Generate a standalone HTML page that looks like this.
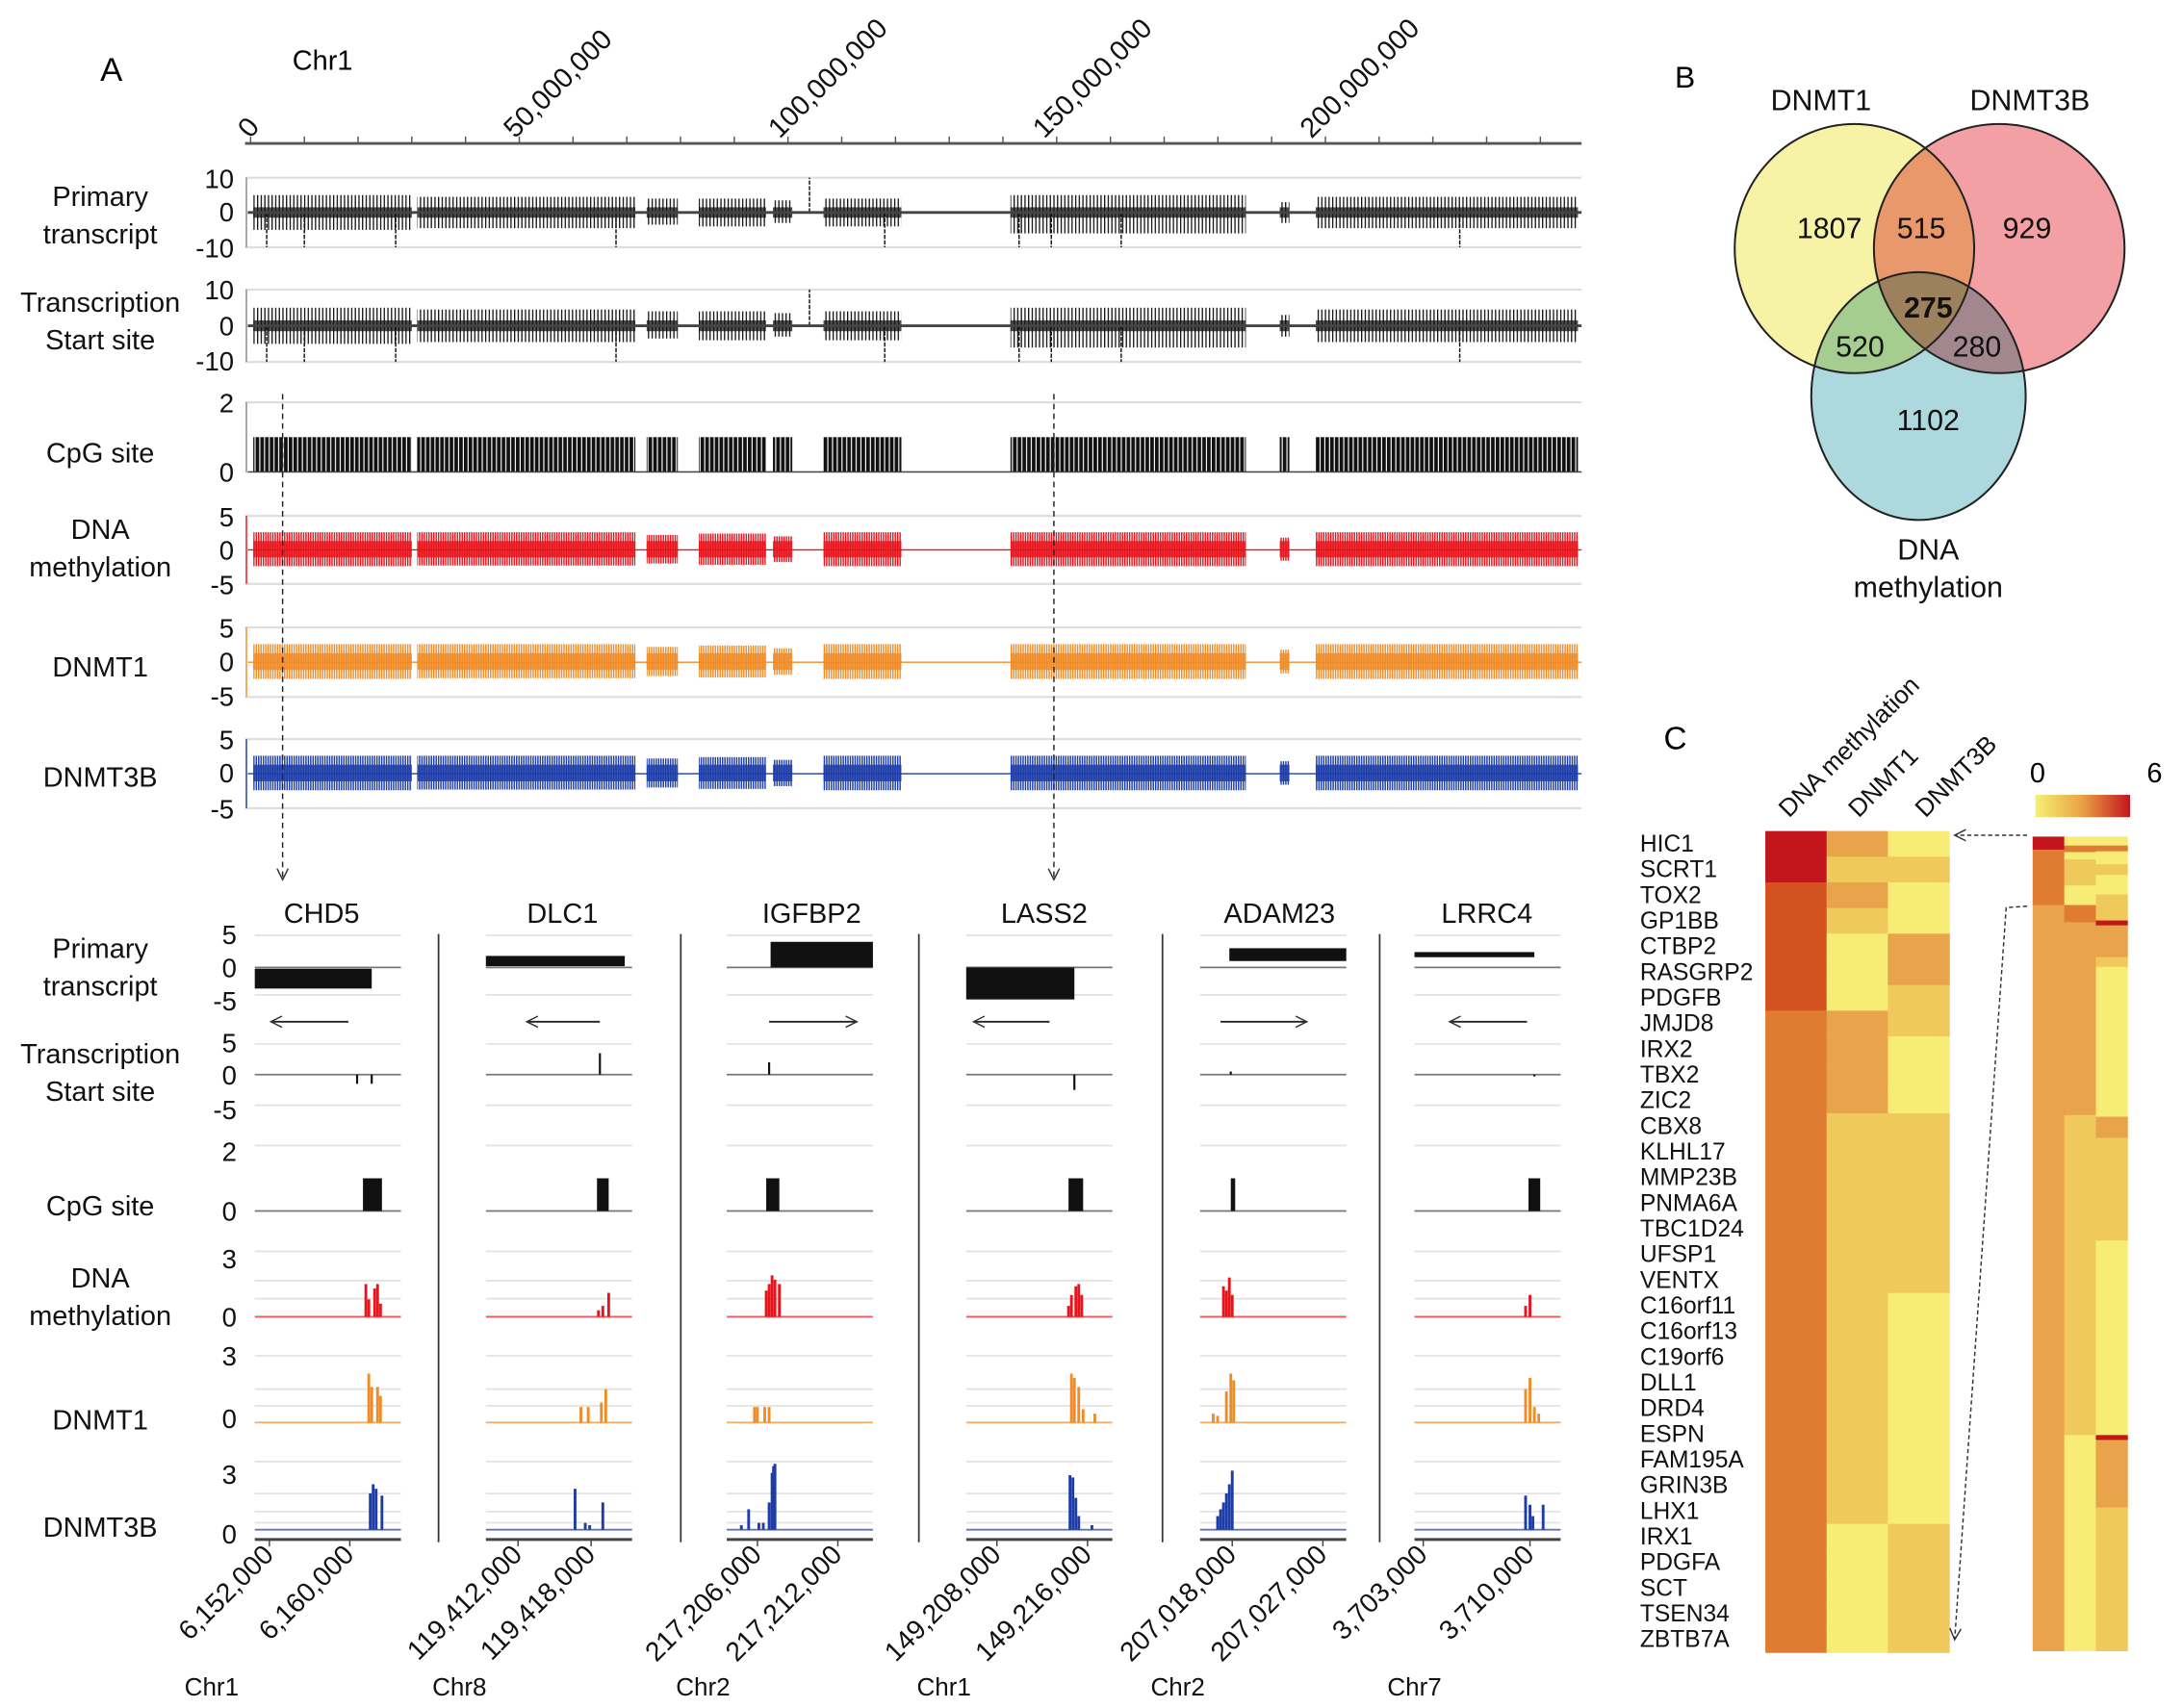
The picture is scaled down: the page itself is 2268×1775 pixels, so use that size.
<!DOCTYPE html>
<html><head><meta charset="utf-8"><style>
html,body{margin:0;padding:0;background:#fff;}
svg{display:block;font-family:"Liberation Sans",sans-serif;}
.lab{font-size:20px;fill:#111;text-anchor:middle;}
.tk{font-size:19px;fill:#111;text-anchor:end;}
.gn{font-size:17px;fill:#111;}
</style></head><body>
<svg id="fig" width="2268" height="1775" viewBox="0 0 1568 1227" xmlns="http://www.w3.org/2000/svg">
<defs>
<pattern id="pk" width="2.6" height="4" patternUnits="userSpaceOnUse"><rect width="0.9" height="4" fill="#111"/></pattern>
<pattern id="pr" width="1.7" height="4" patternUnits="userSpaceOnUse"><rect width="1" height="4" fill="#e8141c"/></pattern>
<pattern id="po" width="1.7" height="4" patternUnits="userSpaceOnUse"><rect width="1" height="4" fill="#f08c28"/></pattern>
<pattern id="pb" width="1.7" height="4" patternUnits="userSpaceOnUse"><rect width="1" height="4" fill="#1c3ca8"/></pattern>
<pattern id="pc" width="3.4" height="4" patternUnits="userSpaceOnUse"><rect width="2.6" height="4" fill="#111"/></pattern>
<linearGradient id="cb"><stop offset="0" stop-color="#f6ef74"/><stop offset="0.5" stop-color="#eaa044"/><stop offset="1" stop-color="#c4141c"/></linearGradient>
<marker id="ah" markerWidth="10" markerHeight="10" refX="9" refY="5" orient="auto" markerUnits="userSpaceOnUse"><path d="M1,1 L9,5 L1,9" fill="none" stroke="#333" stroke-width="1"/></marker>
</defs>

<text x="72" y="58" font-size="24">A</text>
<text x="210" y="50" font-size="20">Chr1</text>
<g font-size="20" fill="#111">
<text transform="translate(180,100) rotate(-50)">0</text>
<text transform="translate(370,100) rotate(-45)">50,000,000</text>
<text transform="translate(560,100) rotate(-45)">100,000,000</text>
<text transform="translate(750,100) rotate(-45)">150,000,000</text>
<text transform="translate(942,100) rotate(-45)">200,000,000</text>
</g>

<g>
<text class="lab" x="72" y="148">Primary</text>
<text class="lab" x="72" y="175">transcript</text>
<text class="lab" x="72" y="224">Transcription</text>
<text class="lab" x="72" y="251">Start site</text>
<text class="lab" x="72" y="332">CpG site</text>
<text class="lab" x="72" y="387">DNA</text>
<text class="lab" x="72" y="414">methylation</text>
<text class="lab" x="72" y="486">DNMT1</text>
<text class="lab" x="72" y="565">DNMT3B</text>
</g>
<g>
<text class="tk" x="168" y="135">10</text><text class="tk" x="168" y="159">0</text><text class="tk" x="168" y="185">-10</text>
<text class="tk" x="168" y="215">10</text><text class="tk" x="168" y="241">0</text><text class="tk" x="168" y="266">-10</text>
<text class="tk" x="168" y="296">2</text><text class="tk" x="168" y="346">0</text>
<text class="tk" x="168" y="378">5</text><text class="tk" x="168" y="402">0</text><text class="tk" x="168" y="427">-5</text>
<text class="tk" x="168" y="458">5</text><text class="tk" x="168" y="482">0</text><text class="tk" x="168" y="507">-5</text>
<text class="tk" x="168" y="538">5</text><text class="tk" x="168" y="562">0</text><text class="tk" x="168" y="588">-5</text>
</g>

<g>
<text class="lab" x="72" y="688">Primary</text><text class="lab" x="72" y="715">transcript</text>
<text class="lab" x="72" y="764">Transcription</text><text class="lab" x="72" y="791">Start site</text>
<text class="lab" x="72" y="873">CpG site</text>
<text class="lab" x="72" y="925">DNA</text><text class="lab" x="72" y="952">methylation</text>
<text class="lab" x="72" y="1027">DNMT1</text>
<text class="lab" x="72" y="1104">DNMT3B</text>
</g>
<g>
<text class="tk" x="170" y="678">5</text><text class="tk" x="170" y="702">0</text><text class="tk" x="170" y="726">-5</text>
<text class="tk" x="170" y="756">5</text><text class="tk" x="170" y="779">0</text><text class="tk" x="170" y="804">-5</text>
<text class="tk" x="170" y="834">2</text><text class="tk" x="170" y="877">0</text>
<text class="tk" x="170" y="911">3</text><text class="tk" x="170" y="953">0</text>
<text class="tk" x="170" y="981">3</text><text class="tk" x="170" y="1026">0</text>
<text class="tk" x="170" y="1066">3</text><text class="tk" x="170" y="1109">0</text>
</g>
<g font-size="20" fill="#111" text-anchor="middle">
<text x="231" y="663">CHD5</text><text x="404" y="663">DLC1</text><text x="583" y="663">IGFBP2</text>
<text x="750" y="663">LASS2</text><text x="919" y="663">ADAM23</text><text x="1068" y="663">LRRC4</text>
</g>
<g font-size="18" fill="#111" text-anchor="middle">
<text x="152" y="1218">Chr1</text><text x="330" y="1218">Chr8</text><text x="505" y="1218">Chr2</text>
<text x="678" y="1218">Chr1</text><text x="846" y="1218">Chr2</text><text x="1016" y="1218">Chr7</text>
</g>

<g>
<text x="1203" y="63" font-size="22">B</text>
<g style="isolation:isolate">
<ellipse cx="1332" cy="178.5" rx="86" ry="89.5" fill="#f6f2a6" style="mix-blend-mode:multiply"/>
<ellipse cx="1436" cy="178.5" rx="90" ry="89.5" fill="#f2a0a4" style="mix-blend-mode:multiply"/>
<ellipse cx="1378" cy="284.5" rx="77" ry="89" fill="#acd8de" style="mix-blend-mode:multiply"/>
</g>
<g fill="none" stroke="#222" stroke-width="1.4">
<ellipse cx="1332" cy="178.5" rx="86" ry="89.5"/><ellipse cx="1436" cy="178.5" rx="90" ry="89.5"/><ellipse cx="1378" cy="284.5" rx="77" ry="89"/>
</g>
<g font-size="21" fill="#111" text-anchor="middle">
<text x="1308" y="79">DNMT1</text><text x="1458" y="79">DNMT3B</text>
<text x="1314" y="171">1807</text><text x="1380" y="171">515</text><text x="1456" y="171">929</text>
<text x="1385" y="228" font-weight="bold">275</text>
<text x="1336" y="256">520</text><text x="1420" y="256">280</text>
<text x="1385" y="309">1102</text>
<text x="1385" y="402">DNA</text><text x="1385" y="429">methylation</text>
</g>
</g>

<text x="1195" y="538" font-size="23">C</text>
<g font-size="18" fill="#111">
<text transform="translate(1285,588) rotate(-45)">DNA  methylation</text>
<text transform="translate(1335,588) rotate(-45)">DNMT1</text>
<text transform="translate(1383,588) rotate(-45)">DNMT3B</text>
</g>
<rect x="1462" y="571" width="68" height="16" fill="url(#cb)"/>
<text x="1458" y="562" font-size="20">0</text>
<text x="1542" y="562" font-size="20">6</text>
<g id="hm"></g>
<g id="hm2"></g>
<g id="rowlabels"></g>
<g fill="none" stroke="#333" stroke-width="1" stroke-dasharray="3,2">
<path d="M1456,600 L1404,600" marker-end="url(#ah)"/>
<path d="M1456,651 L1441,652 L1404,1178" marker-end="url(#ah)"/>
</g>

<g id="topTracks"></g>
<g id="botTracks"></g>
<g fill="none" stroke="#222" stroke-width="1" stroke-dasharray="4,3">
<path d="M203,283 L203,632" marker-end="url(#ah)"/>
<path d="M757,283 L757,632" marker-end="url(#ah)"/>
</g>
</svg>
<script>
const genomeTicks = [0, 50, 100, 150, 200];
const segStart = [0.5, 31, 73.7, 83.4, 97.2, 106.6, 141.4, 191.5, 198.2];
const segEnd   = [30, 71.6, 79.5, 95.9, 100.8, 121.1, 185.2, 193.3, 247];
const primUp = [5, 4.5, 4, 4, 3.5, 4, 5, 3, 4.5];
const primDown = [-5, -4.5, -3.5, -4, -3, -4, -6, -3, -4.5];
const spikePos = [3, 10, 27, 68, 104, 118, 143, 149, 162, 225];
const spikeVal = [-10, -10, -10, -10, 10, -10, -10, -10, -10, -10];
const scatUp = [2.6, 2.6, 2.2, 2.4, 2.0, 2.6, 2.6, 1.8, 2.6];
const scatDown = [-2.4, -2.3, -2.0, -2.2, -1.8, -2.4, -2.4, -1.6, -2.4];
const genes = ['CHD5','DLC1','IGFBP2','LASS2','ADAM23','LRRC4'];
const geneTickA = ['6,152,000','119,412,000','217,206,000','149,208,000','207,018,000','3,703,000'];
const geneTickB = ['6,160,000','119,418,000','217,212,000','149,216,000','207,027,000','3,710,000'];
const tickFracA = [0.10, 0.22, 0.21, 0.21, 0.22, 0.06];
const tickFracB = [0.65, 0.72, 0.76, 0.83, 0.84, 0.79];
const txStart = [0, 0, 0.3, 0, 0.2, 0];
const txEnd = [0.8, 0.95, 1.0, 0.74, 1.0, 0.82];
const txTop = [-0.2, 1.8, 4, 0, 3, 2.4];
const txBot = [-3.3, 0.2, 0, -5, 1, 1.6];
const arrowDir = [-1, -1, 1, -1, 1, -1];
const arrowA = [0.11, 0.28, 0.29, 0.05, 0.14, 0.24];
const arrowB = [0.64, 0.78, 0.89, 0.57, 0.73, 0.77];
const tssPos = [[0.70, 0.80], [0.78], [0.29], [0.74], [0.21], [0.82]];
const tssVal = [[-1.5, -1.5], [3.5], [2], [-2.5], [0.5], [-0.3]];
const cpgA = [0.74, 0.76, 0.27, 0.70, 0.21, 0.78];
const cpgB = [0.87, 0.84, 0.36, 0.80, 0.24, 0.86];
const methPos = [[0.76,0.78,0.82,0.84,0.86],[0.77,0.80,0.84],[0.27,0.29,0.31,0.33,0.36],[0.70,0.72,0.75,0.77,0.79],[0.16,0.18,0.20,0.22],[0.76,0.79]];
const methVal = [[1.5,0.8,1.3,1.5,0.6],[0.3,0.5,1.1],[1.2,1.5,1.9,1.7,1.5],[0.5,1.0,1.4,1.5,1.0],[1.4,1.2,1.8,1.0],[0.5,1.0]];
const d1Pos = [[0.78,0.80,0.84,0.86],[0.65,0.70,0.79,0.82],[0.19,0.21,0.26,0.29],[0.72,0.74,0.77,0.80,0.88],[0.09,0.12,0.18,0.21,0.23],[0.76,0.79,0.82,0.85]];
const d1Val = [[2.2,1.6,1.6,1.2],[0.7,0.7,0.9,1.5],[0.7,0.7,0.7,0.7],[2.2,2.0,1.6,0.6,0.4],[0.4,0.3,1.4,2.2,1.9],[1.5,2.0,0.7,0.4]];
const d3Pos = [[0.79,0.81,0.83,0.87],[0.61,0.68,0.71,0.80],[0.10,0.15,0.22,0.25,0.29,0.31,0.32,0.33],[0.71,0.73,0.75,0.77,0.86],[0.12,0.14,0.16,0.18,0.20,0.22],[0.76,0.79,0.81,0.88]];
const d3Val = [[1.6,2.0,1.8,1.5],[1.8,0.3,0.2,1.2],[0.2,0.9,0.3,0.3,1.2,2.5,2.8,2.9],[2.4,2.3,1.4,0.6,0.2],[0.6,0.9,1.2,1.6,2.0,2.6],[1.5,1.1,0.6,1.1]];
const rowGenes = ['HIC1','SCRT1','TOX2','GP1BB','CTBP2','RASGRP2','PDGFB','JMJD8','IRX2','TBX2','ZIC2','CBX8','KLHL17','MMP23B','PNMA6A','TBC1D24','UFSP1','VENTX','C16orf11','C16orf13','C19orf6','DLL1','DRD4','ESPN','FAM195A','GRIN3B','LHX1','IRX1','PDGFA','SCT','TSEN34','ZBTB7A'];
const hmMeth = [6,6,5,5,5,5,5,4,4,4,4,4,4,4,4,4,4,4,4,4,4,4,4,4,4,4,4,4,4,4,4,4];
const hmD1   = [3,2,3,2,1,1,1,3,3,3,3,2,2,2,2,2,2,2,2,2,2,2,2,2,2,2,2,1,1,1,1,1];
const hmD3b  = [1,2,1,1,3,3,2,2,1,1,1,2,2,2,2,2,2,2,1,1,1,1,1,1,1,1,1,2,2,2,2,2];
const det1 = [[0,1.6,6],[1.6,8.4,4],[8.4,100,3]];
const det2 = [[0,1.1,1],[1.1,1.9,4],[1.9,2.8,1],[2.8,6,2],[6,8.4,1],[8.4,10.5,4],[10.5,34.2,3],[34.2,73.5,2],[73.5,100,1]];
const det3 = [[0,1.1,1],[1.1,1.8,4],[1.8,3.4,1],[3.4,4.7,2],[4.7,7.1,1],[7.1,10.3,2],[10.3,10.9,6],[10.9,14.8,3],[14.8,16,2],[16,34.4,1],[34.4,37,3],[37,49.6,2],[49.6,73.5,1],[73.5,74.1,6],[74.1,82.4,3],[82.4,100,2]];
const levelColor = ['#fff','#f6ec76','#efc95c','#e9a34a','#e07c32','#d4521f','#c2161c'];

const NS = 'http://www.w3.org/2000/svg';
function mk(parent, tag, attrs) {
  const e = document.createElementNS(NS, tag);
  for (const k in attrs) e.setAttribute(k, attrs[k]);
  parent.appendChild(e);
  return e;
}
const topG = document.getElementById('topTracks');
const botG = document.getElementById('botTracks');
const X0 = 180, X1 = 1136, PX_PER_MB = 3.86;
const xMb = m => X0 + m * PX_PER_MB;
function yAxis(y0, yTop, vmax) { return v => y0 - v * (y0 - yTop) / vmax; }

let ax = mk(topG, 'line', {x1:176, x2:X1, y1:103, y2:103, stroke:'#555', 'stroke-width':2});


for (let m = 0; m <= 240; m += 10) {
  let t = mk(topG, 'line', {x1:xMb(m), x2:xMb(m), y1:98, y2:103, stroke:'#555'});
  
  
}

const tracks = [
  {name:'primary-transcript', y0:152.6, yT:127.6, vmax:10, kind:'tx'},
  {name:'tss', y0:234, yT:208, vmax:10, kind:'tx'},
  {name:'cpg', y0:339, yT:289, vmax:2, kind:'cpg'},
  {name:'dna-methylation', y0:395, yT:370.6, vmax:5, kind:'sc', pat:'pr', col:'#e8141c'},
  {name:'dnmt1', y0:475.7, yT:450.7, vmax:5, kind:'sc', pat:'po', col:'#f08c28'},
  {name:'dnmt3b', y0:555.8, yT:531, vmax:5, kind:'sc', pat:'pb', col:'#1c3ca8'}
];
tracks.forEach(tr => {
  const y = yAxis(tr.y0, tr.yT, tr.vmax);
  const g = mk(topG, 'g', {});
  
  
  const lo = tr.kind === 'cpg' ? 0 : -tr.vmax;
  [tr.vmax, lo].forEach(v => {
    let gl = mk(g, 'line', {x1:176, x2:X1, y1:y(v), y2:y(v), stroke:'#ddd', 'stroke-width':1.5});
    
    
  });
  let va = mk(g, 'line', {x1:177, x2:177, y1:y(tr.vmax), y2:y(lo), stroke: tr.col || '#888', 'stroke-width':1});
  
  
  segStart.forEach((s, i) => {
    const x = xMb(s), w = xMb(segEnd[i]) - x;
    if (tr.kind === 'tx') {
      let r = mk(g, 'rect', {x:x, y:y(primUp[i]), width:w, height:y(primDown[i]) - y(primUp[i]), fill:'url(#pk)'});
      
      
      let c = mk(g, 'rect', {x:x, y:y(1.5), width:w, height:y(-1.5) - y(1.5), fill:'#111', opacity:0.75});
      
      
    } else if (tr.kind === 'cpg') {
      let r = mk(g, 'rect', {x:x, y:y(1), width:w, height:y(0) - y(1), fill:'url(#pc)'});
      
      
    } else {
      let r = mk(g, 'rect', {x:x, y:y(scatUp[i]), width:w, height:y(scatDown[i]) - y(scatUp[i]), fill:'url(#' + tr.pat + ')'});
      
      
      let c = mk(g, 'rect', {x:x, y:y(1.3), width:w, height:y(-1.1) - y(1.3), fill:tr.col, opacity:0.85});
      
      
    }
  });
  if (tr.kind === 'tx') {
    spikePos.forEach((p, i) => {
      let s = mk(g, 'line', {x1:xMb(p), x2:xMb(p), y1:y(0), y2:y(spikeVal[i]), stroke:'#111', 'stroke-width':1, 'stroke-dasharray':'3,1'});
      
      
    });
  }
  let zl = mk(g, 'line', {x1:178, x2:X1, y1:y(0), y2:y(0), stroke: tr.kind === 'sc' ? tr.col : '#444', 'stroke-width': tr.kind === 'tx' ? 2 : 1});
  
  
});

const colX = [183, 349, 522, 694, 862, 1016], colW = 105;
const sepX = [315, 489, 660, 835, 991];
sepX.forEach(x => {
  let s = mk(botG, 'line', {x1:x, x2:x, y1:671, y2:1108, stroke:'#333', 'stroke-width':1.2});
  
  
});
const yTx = yAxis(695, 672, 5), yTss = yAxis(772, 750, 5), yCpg = yAxis(870, 823, 2);
const yMe = yAxis(946, 899, 3), yD1 = yAxis(1022, 974, 3), yD3 = yAxis(1099, 1050, 3);
const grids = [672, 714.7, 750, 794, 823, 899, 920, 933, 974, 998, 1010, 1050, 1073, 1086, 1094];
genes.forEach((gname, i) => {
  const x0 = colX[i], fx = f => x0 + f * colW;
  const g = mk(botG, 'g', {});
  
  
  grids.forEach(gy => {
    let l = mk(g, 'line', {x1:x0, x2:x0 + colW, y1:gy, y2:gy, stroke:'#e2e2e2', 'stroke-width':1.2});
    
    
  });
  let bl = mk(g, 'line', {x1:x0, x2:x0 + colW, y1:yTx(0), y2:yTx(0), stroke:'#777', 'stroke-width':1.2});
  
  
  let tb = mk(g, 'rect', {x:fx(txStart[i]), y:yTx(txTop[i]), width:(txEnd[i] - txStart[i]) * colW, height:Math.max(2, yTx(txBot[i]) - yTx(txTop[i])), fill:'#111'});
  
  
  const ay = 734, a1 = fx(arrowA[i]), a2 = fx(arrowB[i]);
  let ar = mk(g, 'line', {x1: arrowDir[i] < 0 ? a2 : a1, x2: arrowDir[i] < 0 ? a1 : a2, y1:ay, y2:ay, stroke:'#222', 'stroke-width':1.3, 'marker-end':'url(#ah)'});
  
  
  let tl = mk(g, 'line', {x1:x0, x2:x0 + colW, y1:yTss(0), y2:yTss(0), stroke:'#777', 'stroke-width':1.2});
  
  
  tssPos[i].forEach((p, k) => {
    let t = mk(g, 'line', {x1:fx(p), x2:fx(p), y1:yTss(0), y2:yTss(tssVal[i][k]), stroke:'#111', 'stroke-width':1.5});
    
    
  });
  let cl = mk(g, 'line', {x1:x0, x2:x0 + colW, y1:yCpg(0), y2:yCpg(0), stroke:'#777', 'stroke-width':1.2});
  
  
  let cb = mk(g, 'rect', {x:fx(cpgA[i]), y:yCpg(1), width:Math.max(2, (cpgB[i] - cpgA[i]) * colW), height:yCpg(0) - yCpg(1), fill:'#111'});
  
  
  [[methPos, methVal, yMe, '#e8141c', 'methylation'], [d1Pos, d1Val, yD1, '#f08c28', 'dnmt1'], [d3Pos, d3Val, yD3, '#1c3ca8', 'dnmt3b']].forEach(([P, V, yf, col, nm]) => {
    let b = mk(g, 'line', {x1:x0, x2:x0 + colW, y1:yf(0), y2:yf(0), stroke:col, 'stroke-width':1.3, opacity:0.7});
    
    
    P[i].forEach((p, k) => {
      let pk = mk(g, 'rect', {x:fx(p) - 1, y:yf(V[i][k]), width:2, height:yf(0) - yf(V[i][k]), fill:col});
      
      
    });
  });
  let xl = mk(g, 'line', {x1:x0, x2:x0 + colW, y1:1106, y2:1106, stroke:'#444', 'stroke-width':2});
  
  
  [[tickFracA[i], geneTickA[i]], [tickFracB[i], geneTickB[i]]].forEach(([f, lab]) => {
    let tk = mk(g, 'line', {x1:fx(f), x2:fx(f), y1:1106, y2:1111, stroke:'#444'});
    
    
    let tx = mk(g, 'text', {transform:'translate(' + (fx(f) + 4) + ',1118) rotate(-45)', 'font-size':19.5, 'text-anchor':'end', fill:'#111'});
    tx.textContent = lab;
    
    
  });
});

const hm = document.getElementById('hm'), hm2 = document.getElementById('hm2'), rl = document.getElementById('rowlabels');
const HX = 1268, HCW = 44, HY0 = 597, HY1 = 1187, rh = (HY1 - HY0) / rowGenes.length;
[hmMeth, hmD1, hmD3b].forEach((col, c) => {
  col.forEach((v, r) => {
    let cell = mk(hm, 'rect', {x:HX + c * HCW, y:HY0 + r * rh, width:HCW + 0.5, height:rh + 0.5, fill:levelColor[v]});
    
    
  });
});
rowGenes.forEach((gname, r) => {
  let t = mk(rl, 'text', {x:1178, y:HY0 + r * rh + rh * 0.8, class:'gn'});
  t.textContent = gname;
  
  
});
const DX = 1460, DCW = 22.7, DY0 = 601, DY1 = 1186;
[det1, det2, det3].forEach((col, c) => {
  col.forEach(([a, b, v]) => {
    let cell = mk(hm2, 'rect', {x:DX + c * DCW, y:DY0 + a / 100 * (DY1 - DY0), width:DCW + 0.3, height:(b - a) / 100 * (DY1 - DY0) + 0.3, fill:levelColor[v]});
    
    
  });
});
</script>
</body></html>
